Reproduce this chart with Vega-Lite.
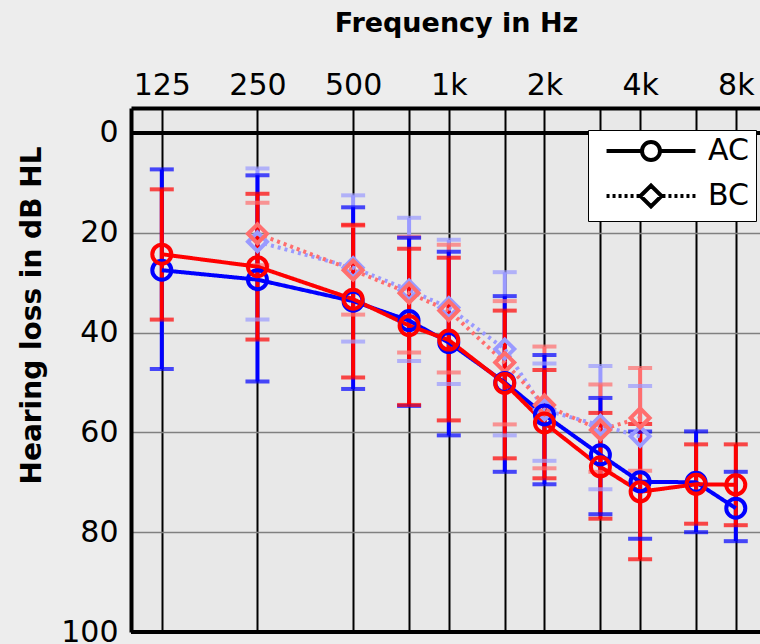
{
  "$schema": "https://vega.github.io/schema/vega-lite/v6.json",
  "width": 629,
  "height": 524,
  "autosize": {"type": "none"},
  "padding": {"left": 131, "top": 108, "right": 0, "bottom": 12},
  "background": "#ededed",
  "config": {
    "view": {"fill": "#e8e8e8", "stroke": null},
    "font": "DejaVu Sans",
    "axisX": {
      "grid": true, "gridColor": "black", "gridWidth": 2, "gridOpacity": 1,
      "ticks": false, "domainColor": "black", "domainWidth": 4,
      "labelFontSize": 30, "labelColor": "black", "labelPadding": 8,
      "labelFlush": false, "labelOverlap": false, "labelBound": false,
      "titleFontSize": 27, "titleFontWeight": "bold", "titleColor": "black", "titlePadding": 33
    },
    "axisY": {
      "grid": true, "gridColor": "#808080", "gridWidth": 1.5, "gridOpacity": 1,
      "ticks": false, "domainColor": "black", "domainWidth": 4,
      "labelFontSize": 30, "labelColor": "black", "labelPadding": 13,
      "labelFlush": false, "labelOverlap": false, "labelBound": false,
      "titleFontSize": 28, "titleFontWeight": "bold", "titleColor": "black", "titlePadding": 14,
      "titleY": 207
    }
  },
  "data": {
    "values": [
      {"series": "BC-1", "type": "BC", "freq": 250, "mean": 21.8, "lo": 7.1, "hi": 37.4},
      {"series": "BC-1", "type": "BC", "freq": 500, "mean": 27.0, "lo": 12.5, "hi": 41.8},
      {"series": "BC-1", "type": "BC", "freq": 750, "mean": 31.5, "lo": 17.0, "hi": 45.7},
      {"series": "BC-1", "type": "BC", "freq": 1000, "mean": 35.0, "lo": 21.4, "hi": 50.3},
      {"series": "BC-1", "type": "BC", "freq": 1500, "mean": 43.3, "lo": 27.9, "hi": 60.6},
      {"series": "BC-1", "type": "BC", "freq": 2000, "mean": 55.5, "lo": 46.2, "hi": 65.7},
      {"series": "BC-1", "type": "BC", "freq": 3000, "mean": 58.6, "lo": 46.7, "hi": 71.4},
      {"series": "BC-1", "type": "BC", "freq": 4000, "mean": 60.8, "lo": 50.7, "hi": 70.0},
      {"series": "BC-2", "type": "BC", "freq": 250, "mean": 20.2, "lo": 14.0, "hi": 26.5},
      {"series": "BC-2", "type": "BC", "freq": 500, "mean": 27.5, "lo": 18.6, "hi": 36.4},
      {"series": "BC-2", "type": "BC", "freq": 750, "mean": 32.1, "lo": 20.8, "hi": 44.0},
      {"series": "BC-2", "type": "BC", "freq": 1000, "mean": 35.6, "lo": 22.4, "hi": 48.0},
      {"series": "BC-2", "type": "BC", "freq": 1500, "mean": 46.0, "lo": 33.7, "hi": 58.4},
      {"series": "BC-2", "type": "BC", "freq": 2000, "mean": 54.5, "lo": 42.8, "hi": 67.2},
      {"series": "BC-2", "type": "BC", "freq": 3000, "mean": 59.5, "lo": 50.4, "hi": 67.9},
      {"series": "BC-2", "type": "BC", "freq": 4000, "mean": 57.1, "lo": 47.1, "hi": 67.7},
      {"series": "AC-1", "type": "AC", "freq": 125, "mean": 27.5, "lo": 7.3, "hi": 47.3},
      {"series": "AC-1", "type": "AC", "freq": 250, "mean": 29.4, "lo": 8.5, "hi": 49.8},
      {"series": "AC-1", "type": "AC", "freq": 500, "mean": 33.7, "lo": 14.9, "hi": 51.3},
      {"series": "AC-1", "type": "AC", "freq": 750, "mean": 37.6, "lo": 21.0, "hi": 54.7},
      {"series": "AC-1", "type": "AC", "freq": 1000, "mean": 42.0, "lo": 23.8, "hi": 60.6},
      {"series": "AC-1", "type": "AC", "freq": 1500, "mean": 50.0, "lo": 32.7, "hi": 67.9},
      {"series": "AC-1", "type": "AC", "freq": 2000, "mean": 56.5, "lo": 44.5, "hi": 70.4},
      {"series": "AC-1", "type": "AC", "freq": 3000, "mean": 64.5, "lo": 53.1, "hi": 76.4},
      {"series": "AC-1", "type": "AC", "freq": 4000, "mean": 69.9, "lo": 59.8, "hi": 81.3},
      {"series": "AC-1", "type": "AC", "freq": 6000, "mean": 70.0, "lo": 59.8, "hi": 80.0},
      {"series": "AC-1", "type": "AC", "freq": 8000, "mean": 75.2, "lo": 67.9, "hi": 81.8},
      {"series": "AC-2", "type": "AC", "freq": 125, "mean": 24.3, "lo": 11.3, "hi": 37.4},
      {"series": "AC-2", "type": "AC", "freq": 250, "mean": 26.8, "lo": 12.2, "hi": 41.4},
      {"series": "AC-2", "type": "AC", "freq": 500, "mean": 33.3, "lo": 18.4, "hi": 49.0},
      {"series": "AC-2", "type": "AC", "freq": 750, "mean": 38.6, "lo": 23.2, "hi": 54.5},
      {"series": "AC-2", "type": "AC", "freq": 1000, "mean": 41.5, "lo": 25.0, "hi": 57.6},
      {"series": "AC-2", "type": "AC", "freq": 1500, "mean": 50.2, "lo": 35.6, "hi": 65.2},
      {"series": "AC-2", "type": "AC", "freq": 2000, "mean": 58.1, "lo": 47.5, "hi": 69.2},
      {"series": "AC-2", "type": "AC", "freq": 3000, "mean": 66.9, "lo": 56.1, "hi": 77.3},
      {"series": "AC-2", "type": "AC", "freq": 4000, "mean": 71.9, "lo": 58.3, "hi": 85.4},
      {"series": "AC-2", "type": "AC", "freq": 6000, "mean": 70.4, "lo": 62.4, "hi": 78.3},
      {"series": "AC-2", "type": "AC", "freq": 8000, "mean": 70.5, "lo": 62.4, "hi": 78.6}
    ]
  },
  "resolve": {"scale": {"shape": "independent"}},
  "encoding": {
    "x": {
      "field": "freq", "type": "quantitative",
      "scale": {"type": "log", "domain": [100, 9534], "nice": false},
      "axis": {
        "orient": "top", "title": "Frequency in Hz", "titleX": 325,
        "values": [125, 250, 500, 750, 1000, 1500, 2000, 3000, 4000, 6000, 8000],
        "labelExpr": "datum.value == 125 ? '125' : datum.value == 250 ? '250' : datum.value == 500 ? '500' : datum.value == 1000 ? '1k' : datum.value == 2000 ? '2k' : datum.value == 4000 ? '4k' : datum.value == 8000 ? '8k' : ''"
      }
    },
    "color": {
      "field": "series", "type": "nominal", "legend": null,
      "scale": {"domain": ["AC-1", "AC-2", "BC-1", "BC-2"], "range": ["#0000ff", "#ff0000", "#9a9aff", "#ff6e6e"]}
    }
  },
  "layer": [
    {
      "mark": {"type": "rule", "strokeWidth": 4},
      "encoding": {
        "y": {"field": "lo", "type": "quantitative", "title": "Hearing loss in dB HL",
              "scale": {"domain": [-5, 100], "reverse": true, "nice": false, "zero": false},
              "axis": {"values": [0, 20, 40, 60, 80, 100]}},
        "y2": {"field": "hi"}
      }
    },
    {
      "mark": {"type": "tick", "orient": "horizontal", "size": 24, "thickness": 4},
      "encoding": {"y": {"field": "lo", "type": "quantitative", "title": "Hearing loss in dB HL"}}
    },
    {
      "mark": {"type": "tick", "orient": "horizontal", "size": 24, "thickness": 4},
      "encoding": {"y": {"field": "hi", "type": "quantitative", "title": "Hearing loss in dB HL"}}
    },
    {
      "mark": {"type": "line", "strokeWidth": 4},
      "encoding": {
        "y": {"field": "mean", "type": "quantitative", "title": "Hearing loss in dB HL"},
        "strokeDash": {
          "field": "type", "type": "nominal", "legend": null,
          "scale": {"domain": ["AC", "BC"], "range": [[1, 0], [3, 4]]}
        }
      }
    },
    {
      "mark": {"type": "point", "filled": false, "strokeWidth": 4, "size": 361, "opacity": 1},
      "encoding": {
        "y": {"field": "mean", "type": "quantitative", "title": "Hearing loss in dB HL"},
        "shape": {
          "field": "type", "type": "nominal", "legend": null,
          "scale": {"domain": ["AC", "BC"], "range": ["circle", "diamond"]}
        }
      }
    },
    {
      "mark": {"type": "point", "filled": false, "strokeWidth": 4, "size": 324, "opacity": 0, "color": "black"},
      "encoding": {
        "y": {"field": "mean", "type": "quantitative", "title": "Hearing loss in dB HL"},
        "color": null,
        "shape": {
          "field": "type", "type": "nominal",
          "scale": {"domain": ["AC", "BC"], "range": [
            "M-4.94,0L-1,0M1,0L4.94,0M-1,0A1,1 0 1,0 1,0A1,1 0 1,0 -1,0",
            "M-4.94,0L-4.607,0M-4.273,0L-3.94,0M-3.607,0L-3.273,0M-2.94,0L-2.607,0M-2.273,0L-1.94,0M-1.607,0L-1.273,0M1.273,0L1.607,0M1.94,0L2.273,0M2.607,0L2.94,0M3.273,0L3.607,0M3.94,0L4.273,0M4.607,0L4.94,0M-1.17,0L0,-1.17L1.17,0L0,1.17Z"
          ]},
          "legend": {
            "title": null, "orient": "none", "legendX": 457, "legendY": 22,
            "fillColor": "white", "strokeColor": "black", "padding": 6,
            "symbolSize": 324, "symbolOffset": 42, "labelOffset": 42,
            "symbolOpacity": 1, "symbolStrokeColor": "black", "symbolStrokeWidth": 4,
            "symbolFillColor": "transparent",
            "labelFontSize": 30, "labelFont": "DejaVu Sans", "labelColor": "black", "rowPadding": 9
          }
        }
      }
    },
    {
      "data": {"values": [{"level": 0}, {"level": 100}]},
      "mark": {"type": "rule", "strokeWidth": 4, "color": "black"},
      "encoding": {
        "x": null, "color": null,
        "y": {"field": "level", "type": "quantitative", "title": "Hearing loss in dB HL"}
      }
    }
  ]
}
